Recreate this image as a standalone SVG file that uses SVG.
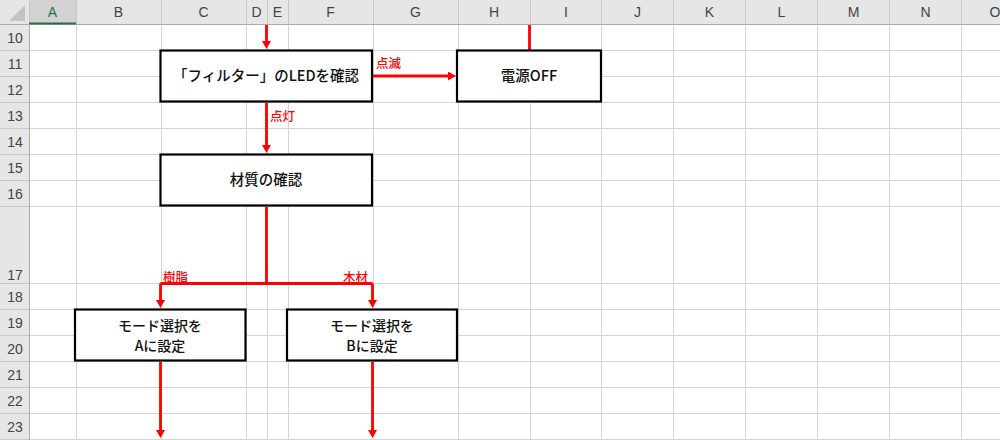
<svg xmlns="http://www.w3.org/2000/svg" width="1000" height="440" viewBox="0 0 1000 440">
  <style>
    .hdr { fill: #e6e6e6; }
    .hdrtxt { font-family: "Liberation Sans", "Open Sans", sans-serif; font-size: 14px; fill: #444444; text-anchor: middle; }
    .rowtxt { font-family: "Liberation Sans", "Open Sans", sans-serif; font-size: 14px; fill: #444444; text-anchor: middle; }
    .grid { stroke: #d4d4d4; stroke-width: 1; fill: none; }
    .hsep { stroke: #c6c6c6; stroke-width: 1; fill: none; }
    .box { fill: #ffffff; stroke: #000000; stroke-width: 2.2; }
    .btxt { font-family: "Noto Sans CJK JP", "Noto Sans", sans-serif; font-size: 14.5px; font-weight: 500; fill: #111111; text-anchor: middle; }
    .btxt2 { font-family: "Noto Sans CJK JP", "Noto Sans", sans-serif; font-size: 14px; font-weight: 500; fill: #111111; text-anchor: middle; }
    .lbl { font-family: "Noto Sans CJK JP", "Noto Sans", sans-serif; font-size: 12.5px; font-weight: 500; fill: #ff0000; }
    .conn { stroke: #ff0000; stroke-width: 2.8; fill: none; }
  </style>
  <defs>
    <marker id="arrow" viewBox="0 0 8 9" markerWidth="8" markerHeight="9" refX="4" refY="4.5" orient="auto" markerUnits="userSpaceOnUse">
      <path d="M0,0 L8,4.5 L0,9 z" fill="#ff0000"/>
    </marker>
  </defs>

  <!-- sheet background -->
  <rect x="0" y="0" width="1000" height="440" fill="#ffffff"/>

  <!-- grid -->
  <g id="sheet-grid">
    <path class="grid" d="M76.5,24 V440 M161.5,24 V440 M246.5,24 V440 M267.5,24 V440 M288.5,24 V440 M373.5,24 V440 M458.5,24 V440 M530.5,24 V440 M601.5,24 V440 M673.5,24 V440 M745.5,24 V440 M817.5,24 V440 M889.5,24 V440 M961.5,24 V440"/>
    <path class="grid" d="M29,50.5 H1000 M29,76.5 H1000 M29,102.5 H1000 M29,128.5 H1000 M29,154.5 H1000 M29,180.5 H1000 M29,206.5 H1000 M29,283.5 H1000 M29,309.5 H1000 M29,335.5 H1000 M29,361.5 H1000 M29,387.5 H1000 M29,413.5 H1000 M29,439.5 H1000"/>
  </g>

  <!-- headers -->
  <g id="column-headers">
    <rect class="hdr" x="0" y="0" width="1000" height="24"/>
    <rect x="29" y="0" width="47" height="24" fill="#d2d2d2"/>
    <path class="hsep" d="M29.5,0 V24 M76.5,0 V24 M161.5,0 V24 M246.5,0 V24 M267.5,0 V24 M288.5,0 V24 M373.5,0 V24 M458.5,0 V24 M530.5,0 V24 M601.5,0 V24 M673.5,0 V24 M745.5,0 V24 M817.5,0 V24 M889.5,0 V24 M961.5,0 V24"/>
    <path d="M0,24.5 H1000" stroke="#ababab" stroke-width="1"/>
    <rect x="29" y="22.5" width="47" height="2" fill="#217346"/>
    <path d="M25,5 L25,21 L9,21 z" fill="#c4c4c4"/>
    <text class="hdrtxt" x="52.5" y="17" style="fill:#217346">A</text>
    <text class="hdrtxt" x="118.5" y="17">B</text>
    <text class="hdrtxt" x="203.5" y="17">C</text>
    <text class="hdrtxt" x="256.5" y="17">D</text>
    <text class="hdrtxt" x="277.5" y="17">E</text>
    <text class="hdrtxt" x="330.5" y="17">F</text>
    <text class="hdrtxt" x="415.5" y="17">G</text>
    <text class="hdrtxt" x="494" y="17">H</text>
    <text class="hdrtxt" x="566" y="17">I</text>
    <text class="hdrtxt" x="637.5" y="17">J</text>
    <text class="hdrtxt" x="709.5" y="17">K</text>
    <text class="hdrtxt" x="781.5" y="17">L</text>
    <text class="hdrtxt" x="853.5" y="17">M</text>
    <text class="hdrtxt" x="925.5" y="17">N</text>
    <text class="hdrtxt" x="995" y="17">O</text>
  </g>

  <g id="row-headers">
    <rect class="hdr" x="0" y="25" width="29" height="415"/>
    <path d="M29.5,24 V440" stroke="#ababab" stroke-width="1"/>
    <path class="hsep" d="M0,50.5 H29 M0,76.5 H29 M0,102.5 H29 M0,128.5 H29 M0,154.5 H29 M0,180.5 H29 M0,206.5 H29 M0,283.5 H29 M0,309.5 H29 M0,335.5 H29 M0,361.5 H29 M0,387.5 H29 M0,413.5 H29 M0,439.5 H29"/>
    <text class="rowtxt" x="15" y="42.5">10</text>
    <text class="rowtxt" x="15" y="68.5">11</text>
    <text class="rowtxt" x="15" y="94.5">12</text>
    <text class="rowtxt" x="15" y="120.5">13</text>
    <text class="rowtxt" x="15" y="146.5">14</text>
    <text class="rowtxt" x="15" y="172.5">15</text>
    <text class="rowtxt" x="15" y="198.5">16</text>
    <text class="rowtxt" x="15" y="280">17</text>
    <text class="rowtxt" x="15" y="301.5">18</text>
    <text class="rowtxt" x="15" y="327.5">19</text>
    <text class="rowtxt" x="15" y="353.5">20</text>
    <text class="rowtxt" x="15" y="379.5">21</text>
    <text class="rowtxt" x="15" y="405.5">22</text>
    <text class="rowtxt" x="15" y="431.5">23</text>
  </g>

  <!-- connectors -->
  <g id="connectors">
    <path class="conn" d="M266.5,25 V45" marker-end="url(#arrow)"/>
    <path class="conn" d="M529.5,25 V50"/>
    <path class="conn" d="M373,76 H452" marker-end="url(#arrow)"/>
    <path class="conn" d="M266.5,103 V149" marker-end="url(#arrow)"/>
    <path class="conn" d="M266.5,207 V283.5 M160.5,283.5 H372.5"/>
    <path class="conn" d="M160.5,283.5 V304" marker-end="url(#arrow)"/>
    <path class="conn" d="M372.5,283.5 V304" marker-end="url(#arrow)"/>
    <path class="conn" d="M160.5,362 V434" marker-end="url(#arrow)"/>
    <path class="conn" d="M372.5,362 V434" marker-end="url(#arrow)"/>
    <text class="lbl" x="376" y="68">点滅</text>
    <text class="lbl" x="270" y="121">点灯</text>
    <text class="lbl" x="163" y="281.5">樹脂</text>
    <text class="lbl" x="343" y="281.5">木材</text>
  </g>

  <!-- nodes -->
  <g id="node-led-check">
    <rect class="box" x="160.5" y="50.5" width="211.5" height="51"/>
    <text class="btxt" x="266" y="81">「フィルター」のLEDを確認</text>
  </g>
  <g id="node-power-off">
    <rect class="box" x="457" y="50.5" width="144" height="51"/>
    <text class="btxt" x="529" y="81">電源OFF</text>
  </g>
  <g id="node-material-check">
    <rect class="box" x="160.5" y="154.5" width="211.5" height="51"/>
    <text class="btxt" x="266" y="185">材質の確認</text>
  </g>
  <g id="node-mode-a">
    <rect class="box" x="75" y="309.5" width="170.5" height="51"/>
    <text class="btxt2" x="160" y="330.5">モード選択を</text>
    <text class="btxt2" x="160" y="351">Aに設定</text>
  </g>
  <g id="node-mode-b">
    <rect class="box" x="287" y="309.5" width="170" height="51"/>
    <text class="btxt2" x="372" y="330.5">モード選択を</text>
    <text class="btxt2" x="372" y="351">Bに設定</text>
  </g>
</svg>
